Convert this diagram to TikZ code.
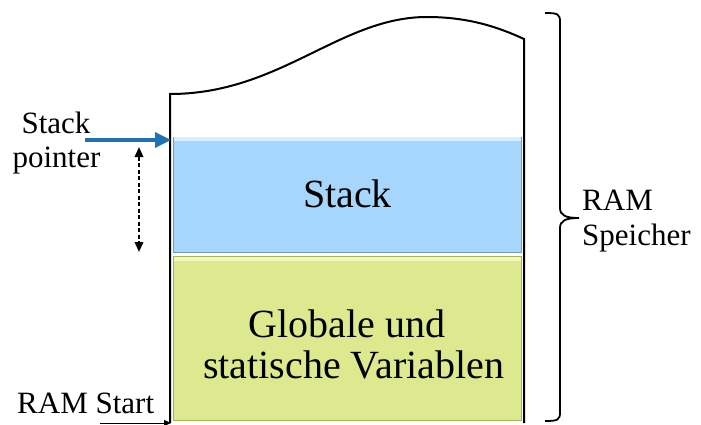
\documentclass[tikz,border=0pt]{standalone}
\usepackage{fontspec}
\setmainfont{Liberation Serif}
\usetikzlibrary{arrows.meta}
\definecolor{stackblue}{HTML}{A6D6FB}
\definecolor{stackedge}{HTML}{6F9DC4}
\definecolor{stacklight}{HTML}{D6EEFF}
\definecolor{globgreen}{HTML}{DCE98E}
\definecolor{globedge}{HTML}{A6B25C}
\definecolor{globlight}{HTML}{F5F7B8}
\definecolor{ptrblue}{HTML}{2171B1}
\tikzset{
  label/.style={font=\fontsize{31}{34}\selectfont, inner sep=0pt},
  boxtext/.style={font=\fontsize{40}{44}\selectfont, inner sep=0pt},
  outline/.style={line width=2pt, black},
}
\begin{document}
\begin{tikzpicture}[x=1pt,y=-1pt]
\useasboundingbox (0,0) rectangle (701,425);
% memory segments
\node[draw=stackedge, line width=0.8pt, fill=stackblue, minimum width=348pt, minimum height=115pt, inner sep=0pt, anchor=north west] (stack) at (172.5,137) {};
\fill[stacklight] (173.5,137.5) rectangle (520.5,141);
\node[draw=globedge, line width=0.8pt, fill=globgreen, minimum width=348pt, minimum height=164pt, inner sep=0pt, anchor=north west] (glob) at (172.5,256) {};
\fill[globlight] (173.5,256.5) rectangle (520.5,261);
\node[boxtext, anchor=base] (stacktxt) at (347.5,207) {Stack};
\node[boxtext, anchor=base] (globtxt1) at (347,337) {Globale und};
\node[boxtext, anchor=base] (globtxt2) at (353.5,378) {statische Variablen};
% outer RAM outline with wavy top
\draw[outline] (170,423) -- (170,94) .. controls (280,94) and (340,17) .. (427,17)
  .. controls (470,17) and (500,28) .. (524,39) -- (524,423);
% brace spanning the whole RAM
\coordinate (btop) at (545,13);
\coordinate (bbot) at (545,421);
\coordinate (btip) at (579,218);
\draw[line width=1.8pt] (btop) .. controls (558,13) and (560,14) .. (560,22) -- (560,208)
  .. controls (560,215) and (565,218) .. (btip)
  .. controls (565,218) and (560,221) .. (560,228) -- (560,412)
  .. controls (560,420) and (558,421) .. (bbot);
\node[label, anchor=base west] (ramlbl1) at (582,210) {RAM};
\node[label, anchor=base west] (ramlbl2) at (582,245) {Speicher};
% stack pointer
\node[label, anchor=base] (sptxt1) at (56,133) {Stack};
\node[label, anchor=base] (sptxt2) at (56.5,167) {pointer};
\coordinate (spfrom) at (85,140);
\coordinate (spto) at (171,140);
\draw[ptrblue, line width=3.5pt, -{Triangle[length=16pt,width=15pt]}] (spfrom) -- (spto);
% direction of stack growth
\coordinate (gtop) at (139,147);
\coordinate (gbot) at (139,252);
\draw[line width=2pt, dash pattern=on 4pt off 2.5pt, {Triangle[length=10pt,width=8.5pt]}-{Triangle[length=10pt,width=8.5pt]}] (gtop) -- (gbot);
% RAM start
\node[label, anchor=base west] (rstxt) at (17,413) {RAM Start};
\coordinate (rsfrom) at (100,423);
\coordinate (rsto) at (171,423);
\draw[line width=1pt, -{Triangle[length=7pt,width=6pt]}] (rsfrom) -- (rsto);
\end{tikzpicture}
\end{document}
